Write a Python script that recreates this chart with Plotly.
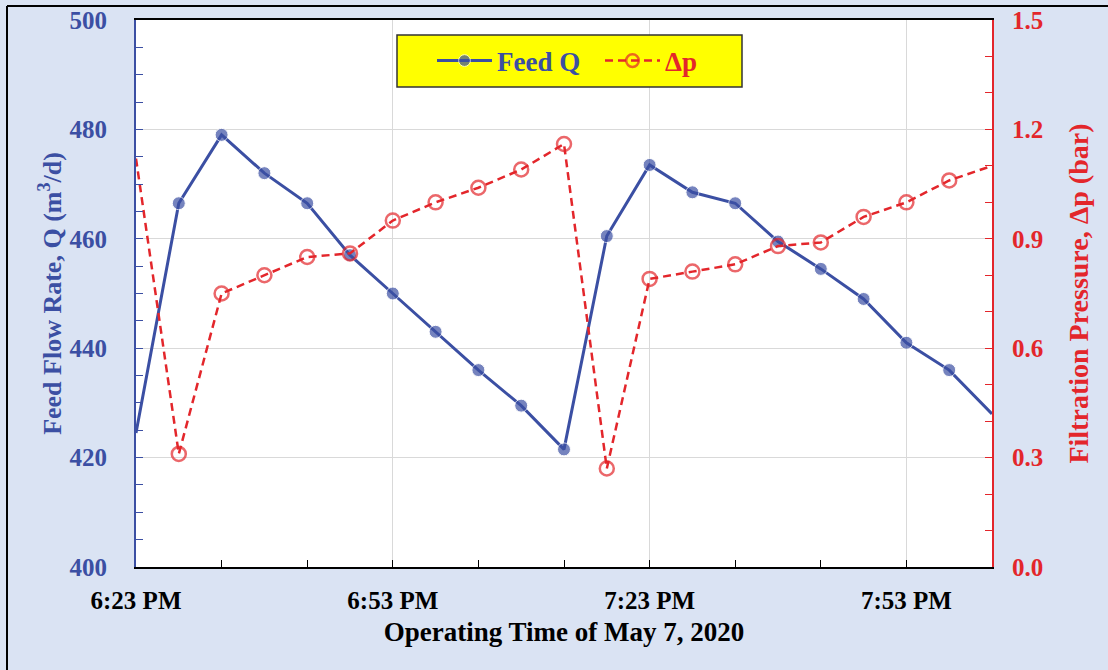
import plotly.graph_objects as go

# ---- data ----
times = [
    "2020-05-07 18:23", "2020-05-07 18:28", "2020-05-07 18:33", "2020-05-07 18:38",
    "2020-05-07 18:43", "2020-05-07 18:48", "2020-05-07 18:53", "2020-05-07 18:58",
    "2020-05-07 19:03", "2020-05-07 19:08", "2020-05-07 19:13", "2020-05-07 19:18",
    "2020-05-07 19:23", "2020-05-07 19:28", "2020-05-07 19:33", "2020-05-07 19:38",
    "2020-05-07 19:43", "2020-05-07 19:48", "2020-05-07 19:53", "2020-05-07 19:58",
    "2020-05-07 20:03",
]
feed_q = [424.5, 466.5, 479.0, 472.0, 466.5, 457.0, 450.0, 443.0, 436.0, 429.5, 421.5,
          460.5, 473.5, 468.5, 466.5, 459.5, 454.5, 449.0, 441.0, 436.0, 428.0]
delta_p = [1.12, 0.31, 0.75, 0.80, 0.85, 0.86, 0.95, 1.00, 1.04, 1.09, 1.16,
           0.27, 0.79, 0.81, 0.83, 0.88, 0.89, 0.96, 1.00, 1.06, 1.10]

x_title = "Operating Time of May 7, 2020"
y_title = "Feed Flow Rate, Q (m<sup>3</sup>/d)"
y2_title = "Filtration Pressure, Δp (bar)"

BLUE = "#3B4FA3"
RED = "#E3262B"
FONT = "Liberation Serif"
BG = "#DAE3F3"

# plot area in pixels: x 136..992, y 20..567
W, H = 1108, 670
L, R, T, B = 136, 992, 20, 567
pw, ph = R - L, B - T


def px(x):
    return (x - L) / pw


def py(y):
    return (B - y) / ph


n = len(times)
q_sizes = [0] + [13] * (n - 2) + [0]
p_sizes = [0] + [14] * (n - 2) + [0]

fig = go.Figure()
fig.add_trace(go.Scatter(
    x=times, y=feed_q, name=f'<span style="color:{BLUE}">Feed Q</span>',
    mode="lines+markers",
    line=dict(color=BLUE, width=3),
    marker=dict(color=BLUE, size=q_sizes, symbol="circle"),
    yaxis="y",
))
fig.add_trace(go.Scatter(
    x=times, y=delta_p, name=f'<span style="color:{RED}">Δp</span>',
    mode="lines+markers",
    line=dict(color=RED, width=2.5, dash="8px,5px"),
    marker=dict(color=RED, size=p_sizes, symbol="circle-open", line=dict(width=2.5, color=RED)),
    yaxis="y2",
))

fig.update_layout(
    width=W, height=H, autosize=False,
    margin=dict(l=L, r=W - R, t=T, b=H - B, pad=0, autoexpand=False),
    paper_bgcolor=BG,
    plot_bgcolor="white",
    font=dict(family=FONT, size=25, color="black", weight="bold"),
    showlegend=True,
    legend=dict(
        orientation="h", x=px(432), xanchor="left", y=py(61), yanchor="middle",
        bgcolor="rgba(0,0,0,0)", borderwidth=0,
        font=dict(family=FONT, size=27, weight="bold"),
        itemwidth=55, entrywidth=98,
    ),
    xaxis=dict(
        type="date", automargin=False,
        range=["2020-05-07 18:23", "2020-05-07 20:03"],
        tick0="2020-05-07 18:23", dtick=30 * 60 * 1000,
        tickformat="%-I:%M %p",
        ticks="inside", ticklen=7, tickcolor="black", tickwidth=1,
        minor=dict(dtick=10 * 60 * 1000, tick0="2020-05-07 18:23", ticks="inside",
                   ticklen=7, tickcolor="black", showgrid=False),
        showgrid=True, gridcolor="#D9D9D9", gridwidth=1,
        showline=True, linecolor="black", linewidth=2, mirror=True,
        tickfont=dict(family=FONT, size=25, color="black", weight="bold"),
        ticklabelstandoff=10,
        title=dict(text=x_title, font=dict(family=FONT, size=27, color="black", weight="bold"),
                   standoff=9),
        zeroline=False,
    ),
    yaxis=dict(
        automargin=False,
        range=[400, 500], dtick=20, tick0=400,
        ticks="inside", ticklen=7, tickcolor=BLUE,
        minor=dict(dtick=5, ticks="inside", ticklen=7, tickcolor=BLUE, showgrid=False),
        showgrid=True, gridcolor="#D9D9D9", gridwidth=1,
        showline=True, linecolor=BLUE, linewidth=2,
        tickfont=dict(family=FONT, size=25, color=BLUE, weight="bold"),
        ticklabelstandoff=22,
        title=dict(text=y_title, font=dict(family=FONT, size=26, color=BLUE, weight="bold"),
                   standoff=0),
        zeroline=False,
    ),
    yaxis2=dict(
        automargin=False,
        overlaying="y", side="right",
        range=[0, 1.5], dtick=0.3, tick0=0, tickformat=".1f",
        ticks="inside", ticklen=7, tickcolor=RED,
        minor=dict(dtick=0.1, ticks="inside", ticklen=7, tickcolor=RED, showgrid=False),
        showgrid=False,
        showline=True, linecolor=RED, linewidth=2,
        tickfont=dict(family=FONT, size=25, color=RED, weight="bold"),
        ticklabelstandoff=13,
        title=dict(text=y2_title, font=dict(family=FONT, size=28, color=RED, weight="bold"),
                   standoff=26),
        zeroline=False,
    ),
    shapes=[
        # outer chart border: only the left and top edges are visible
        dict(type="line", xref="paper", yref="paper",
             x0=px(7), x1=px(7), y0=py(H + 10), y1=py(6),
             line=dict(color="black", width=2), layer="below"),
        dict(type="line", xref="paper", yref="paper",
             x0=px(7), x1=px(W + 10), y0=py(6), y1=py(6),
             line=dict(color="black", width=2), layer="below"),
        # legend box
        dict(type="rect", xref="paper", yref="paper",
             x0=px(397), x1=px(742), y0=py(87), y1=py(35),
             line=dict(color="#333333", width=1.5), fillcolor="#FFFF00", layer="above"),
    ],
)

fig.write_html(
    "out.html",
    config={"displayModeBar": False},
    post_script="document.body.style.margin='0';document.body.style.padding='0';"
                "document.body.style.overflow='hidden';"
                "document.body.style.background='" + BG + "';",
)
